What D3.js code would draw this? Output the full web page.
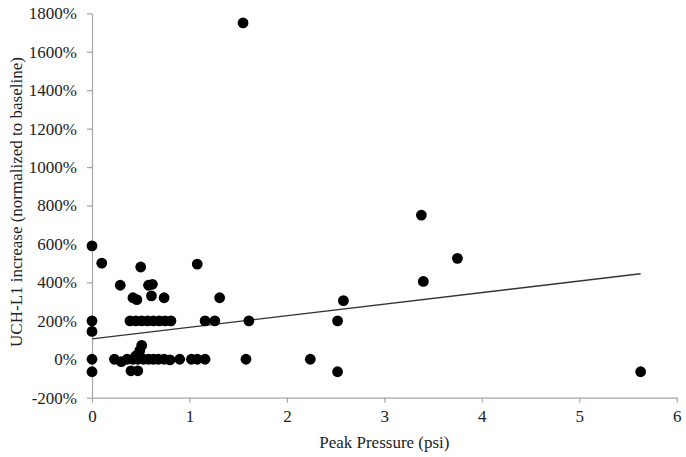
<!DOCTYPE html>
<html><head><meta charset="utf-8">
<script src="https://cdn.jsdelivr.net/npm/d3@7"></script>
<style>body{margin:0;background:#fff}svg{display:block}</style>
</head><body><svg id="c" width="686" height="457"></svg>
<script>
// Peak pressure (psi)
const pressure = [0,0,0,0,0, 0.10,0.50,1.08,0.29,0.58,0.62,0.42,0.46,0.61,0.74,1.31,
  0.39,0.45,0.51,0.57,0.63,0.69,0.75,0.81,1.16,1.26,1.61,2.52,
  0.23,0.30,0.36,0.42,0.47,0.53,0.58,0.63,0.68,0.74,0.80,0.90,1.02,1.08,1.16,1.58,2.24,
  0.51,0.49,0.45,0.40,0.47,2.52,5.63,
  2.58,3.38,3.40,3.75,1.55];
// UCH-L1 increase (%)
const increase = [590,200,145,0,-65, 500,480,495,385,385,390,320,310,330,320,320,
  200,200,200,200,200,200,200,200,200,200,200,200,
  0,-12,0,0,0,0,0,0,0,0,-3,0,0,0,0,0,0,
  72,45,18,-60,-60,-65,-65,
  305,750,405,525,1750];
const trendX = [0, 5.63];
const trendY = [106, 445];
const xTicks = [0,1,2,3,4,5,6];
const yTicks = [-200,0,200,400,600,800,1000,1200,1400,1600,1800];

const FONT = '"Times New Roman", "Liberation Serif", Tinos, "DejaVu Serif", serif';
const svg = d3.select("#c");
const x = d3.scaleLinear().domain([0,6]).range([92,676.7]);
const y = d3.scaleLinear().domain([-200,1800]).range([397.7,13.3]);
const axisColor = "#a6a6a6";

const gx = svg.append("g").attr("transform","translate(0,397.7)")
  .call(d3.axisBottom(x).tickValues(xTicks).tickSize(5).tickSizeOuter(0).tickPadding(7).tickFormat(d3.format("d")));
const gy = svg.append("g").attr("transform","translate(92,0)")
  .call(d3.axisLeft(y).tickValues(yTicks).tickSize(5).tickSizeOuter(0).tickPadding(10).tickFormat(d=>d+"%"));
[gx,gy].forEach(g=>{
  g.attr("font-family",FONT).attr("font-size",17);
  g.selectAll("path,line").attr("stroke",axisColor).attr("stroke-width",1.2);
  g.selectAll("text").attr("fill","#222");
});

svg.append("line")
  .attr("x1",x(trendX[0])).attr("y1",y(trendY[0]))
  .attr("x2",x(trendX[1])).attr("y2",y(trendY[1]))
  .attr("stroke","#333").attr("stroke-width",1.3);

svg.append("g").selectAll("circle").data(pressure.map((p,i)=>[p,increase[i]]))
  .join("circle").attr("cx",d=>x(d[0])).attr("cy",d=>y(d[1])).attr("r",5.4).attr("fill","#000");

svg.append("text").attr("x",(x(0)+x(6))/2).attr("y",448).attr("text-anchor","middle")
  .attr("font-family",FONT).attr("font-size",17).attr("fill","#222").text("Peak Pressure (psi)");
svg.append("text").attr("transform","translate(22,202) rotate(-90)").attr("text-anchor","middle")
  .attr("font-family",FONT).attr("font-size",17).attr("fill","#222").text("UCH-L1 increase (normalized to baseline)");
</script></body></html>
